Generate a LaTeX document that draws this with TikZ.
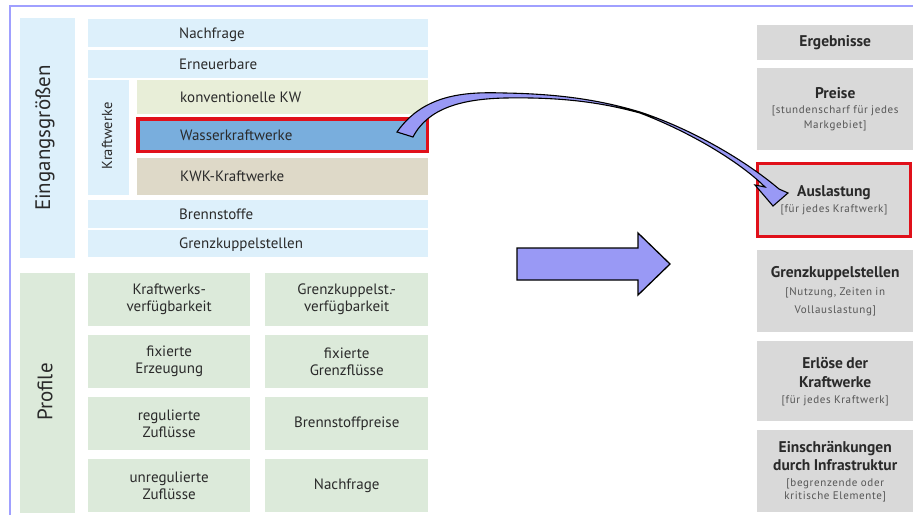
\documentclass[tikz,border=0pt]{standalone}
\usepackage{fontspec}
\setmainfont{PT Sans}
\newfontfamily\subf[LetterSpace=6]{PT Sans}
\definecolor{lblue}{HTML}{DDF0FB}
\definecolor{lgreen}{HTML}{E8EED8}
\definecolor{wblue}{HTML}{79AEDD}
\definecolor{tan}{HTML}{DED9C8}
\definecolor{pgreen}{HTML}{DCEADA}
\definecolor{gbox}{HTML}{D9D9D9}
\definecolor{hred}{HTML}{E0101A}
\definecolor{lav}{HTML}{A0A0FF}
\definecolor{arrowc}{HTML}{9999F5}
\definecolor{txt}{HTML}{2A2A2A}
\definecolor{subtxt}{HTML}{555555}
\begin{document}
\begin{tikzpicture}[x=1pt,y=-1pt,
  box/.style={inner sep=0pt, anchor=north west, draw=none},
  rowtext/.style={anchor=base west, inner sep=0pt, text=txt, font=\fontsize{15}{17}\selectfont},
  header/.style={rotate=90, inner sep=0pt, text=txt, font=\fontsize{21}{24}\selectfont},
  cell/.style={box, fill=pgreen, minimum height=53pt, align=center, text=txt, font=\fontsize{15}{17}\selectfont},
  res/.style={box, fill=gbox, minimum width=156pt, align=center, text width=150pt, text=txt},
  hilite/.style={draw=hred, line width=3.5pt},
  bigarrow/.style={fill=arrowc, draw=black, line width=1.3pt, line join=miter},
  frameline/.style={draw=lav, line width=2pt}
]
\useasboundingbox (0,0) rectangle (913,515);
% frame
\draw[frameline] (10,515) -- (10,6) -- (913,6);

% Eingangsgroessen
\node[box, fill=lblue, minimum width=55pt, minimum height=240pt] (eing) at (20,18) {};
\node[header] (eingt) at (45,138) {Eingangsgrößen};

\node[box, fill=lblue, minimum width=340pt, minimum height=28pt] (nach) at (88,19) {};
\node[rowtext] (nacht) at (179,38) {Nachfrage};
\node[box, fill=lblue, minimum width=340pt, minimum height=28pt] (ern) at (88,50) {};
\node[rowtext] (ernt) at (179,69) {Erneuerbare};

\node[box, fill=lblue, minimum width=41pt, minimum height=115pt] (kw) at (88,80) {};
\node[rotate=90, inner sep=0pt, text=txt, font=\fontsize{14.5}{16}\selectfont] (kwt) at (107,136) {Kraftwerke};

\node[box, fill=lgreen, minimum width=291pt, minimum height=34pt] (konv) at (137,80) {};
\node[rowtext] (konvt) at (180,102) {konventionelle KW};
\node[hilite, fill=wblue, inner sep=0pt, minimum width=289.5pt, minimum height=32.5pt] (wasser) at (282.5,135) {};
\node[rowtext] (wassert) at (180,140) {Wasserkraftwerke};
\node[box, fill=tan, minimum width=291pt, minimum height=37pt] (kwk) at (137,158) {};
\node[rowtext] (kwkt) at (180,181.5) {KWK-Kraftwerke};

\node[box, fill=lblue, minimum width=340pt, minimum height=28pt] (brenn) at (88,200) {};
\node[rowtext] (brennt) at (179,219) {Brennstoffe};
\node[box, fill=lblue, minimum width=340pt, minimum height=27pt] (grenz) at (88,230) {};
\node[rowtext] (grenzt) at (179,248.5) {Grenzkuppelstellen};

% Profile
\node[box, fill=pgreen, minimum width=55pt, minimum height=240pt] (prof) at (20,273) {};
\node[header] (proft) at (45,392) {Profile};

\node[cell, minimum width=162pt] (p11) at (88,273) {Kraftwerks-\\verfügbarkeit};
\node[cell, minimum width=163pt] (p12) at (265,273) {Grenzkuppelst.-\\verfügbarkeit};
\node[cell, minimum width=162pt] (p21) at (88,335) {fixierte\\Erzeugung};
\node[cell, minimum width=163pt] (p22) at (265,335) {fixierte\\Grenzflüsse};
\node[cell, minimum width=162pt] (p31) at (88,397) {regulierte\\Zuflüsse};
\node[cell, minimum width=163pt] (p32) at (265,397) {Brennstoffpreise};
\node[cell, minimum width=162pt] (p41) at (88,459) {unregulierte\\Zuflüsse};
\node[cell, minimum width=163pt] (p42) at (265,459) {Nachfrage};

% Results
\node[res, minimum height=35pt] (erg) at (757,25) {{\fontsize{15.5}{18}\selectfont\bfseries Ergebnisse\par}};
\node[res, minimum height=82pt] (preise) at (757,68)
  {{\fontsize{15.5}{20}\selectfont\bfseries Preise\par}
   {\subf\fontsize{11}{15}\selectfont\color{subtxt}[stundenscharf für jedes\\ Markgebiet]\par}};
\node[res, hilite, anchor=center, minimum width=153pt, minimum height=73pt] (ausl) at (834,200)
  {{\fontsize{15.5}{20}\selectfont\bfseries Auslastung\par}
   {\subf\fontsize{11}{16}\selectfont\color{subtxt}[für jedes Kraftwerk]\par}};
\node[res, minimum height=82pt] (gks) at (757,250)
  {{\fontsize{15.5}{21}\selectfont\bfseries Grenzkuppelstellen\par}
   {\subf\fontsize{11}{18}\selectfont\color{subtxt}[Nutzung, Zeiten in\\ Vollauslastung]\par}};
\node[res, minimum height=80pt] (erl) at (757,341)
  {{\fontsize{15.5}{19}\selectfont\bfseries Erlöse der\\ Kraftwerke\par}
   {\subf\fontsize{11}{16}\selectfont\color{subtxt}[für jedes Kraftwerk]\par}};
\node[res, minimum height=82pt] (ein) at (757,430)
  {{\fontsize{15.5}{18}\selectfont\bfseries Einschränkungen\\ durch Infrastruktur\par}
   {\subf\fontsize{11}{13}\selectfont\color{subtxt}\vspace{3pt}[begrenzende oder\\ kritische Elemente]\par}};

% big right arrow
\draw[bigarrow] (517,248) -- (638,248) -- (638,233) -- (670,264) -- (638,295) -- (638,280) -- (517,280) -- cycle;

% curved arrow from Wasserkraftwerke to Auslastung
\coordinate (cs1) at (397,132);
\coordinate (cs2) at (413,137);
\coordinate (ce) at (773,206);
\draw[bigarrow, line width=1.1pt] (cs1) .. controls (425,92) and (470,92) .. (505,93)
  .. controls (560,94) and (600,100) .. (640,112)
  .. controls (700,132) and (752,166) .. (779,189)
  -- (788,193) -- (ce) -- (755,185) -- (765,187)
  .. controls (740,162) and (690,132) .. (640,113)
  .. controls (600,102) and (560,97) .. (505,98)
  .. controls (462,99) and (428,108) .. (cs2) -- cycle;
\end{tikzpicture}
\end{document}
